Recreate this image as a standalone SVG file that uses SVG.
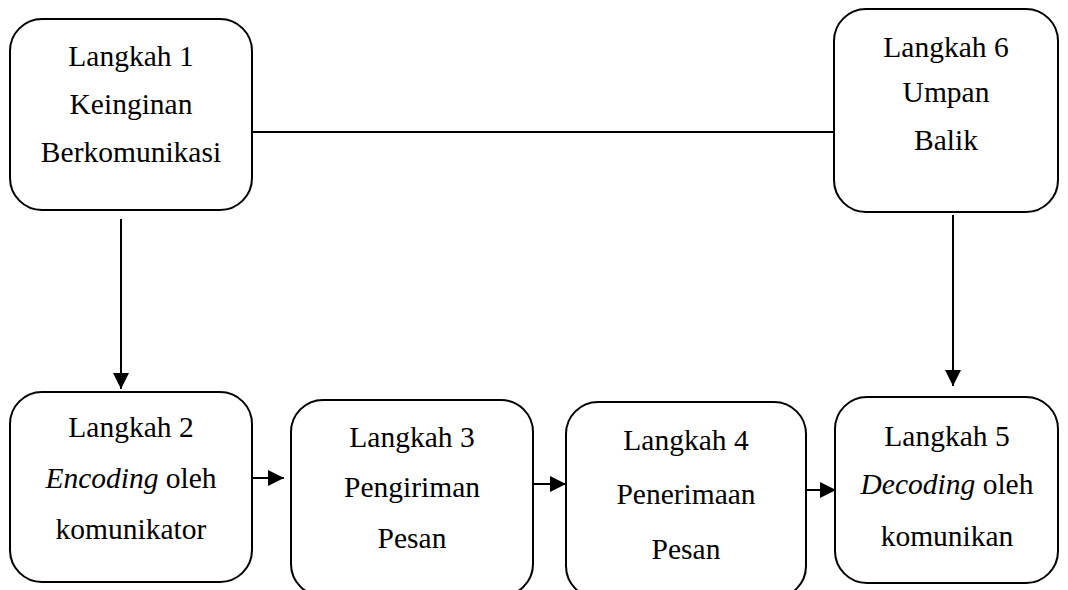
<svg xmlns="http://www.w3.org/2000/svg" width="1068" height="590" viewBox="0 0 1068 590">
<style>
.box{fill:#fff;stroke:#000;stroke-width:2}
.t{font-family:'Liberation Serif','DejaVu Serif',serif;font-size:29.5px;fill:#000;text-anchor:middle}
.i{font-style:italic}
.c{stroke:#000;stroke-width:2;fill:none}
</style>
<defs>
<marker id="ah" markerWidth="17" markerHeight="17" refX="16" refY="8" orient="auto" markerUnits="userSpaceOnUse">
<path d="M0,0 L16,8 L0,16 Z" fill="#000"/>
</marker>
</defs>
<g id="connectors">
<line class="c" x1="252" y1="132" x2="834" y2="132"/>
<line class="c" x1="121" y1="219" x2="121" y2="389" marker-end="url(#ah)"/>
<line class="c" x1="953" y1="215" x2="953" y2="386" marker-end="url(#ah)"/>
<line class="c" x1="252" y1="478" x2="284" y2="478" marker-end="url(#ah)"/>
<line class="c" x1="533" y1="484" x2="566" y2="484" marker-end="url(#ah)"/>
<line class="c" x1="806" y1="490" x2="836" y2="490" marker-end="url(#ah)"/>
</g>
<g id="n1">
<rect class="box" x="10" y="19" width="242" height="191" rx="32"/>
<text class="t" x="131" y="66">Langkah 1</text>
<text class="t" x="131" y="114">Keinginan</text>
<text class="t" x="131" y="162">Berkomunikasi</text>
</g>
<g id="n6">
<rect class="box" x="834" y="9" width="224" height="203" rx="32"/>
<text class="t" x="946" y="57">Langkah 6</text>
<text class="t" x="946" y="102">Umpan</text>
<text class="t" x="946" y="150">Balik</text>
</g>
<g id="n2">
<rect class="box" x="10" y="392" width="242" height="190" rx="32"/>
<text class="t" x="131" y="437">Langkah 2</text>
<text class="t" x="131" y="488"><tspan class="i">Encoding</tspan> oleh</text>
<text class="t" x="131" y="539">komunikator</text>
</g>
<g id="n3">
<rect class="box" x="291" y="400" width="242" height="196" rx="32"/>
<text class="t" x="412" y="447">Langkah 3</text>
<text class="t" x="412" y="497">Pengiriman</text>
<text class="t" x="412" y="548">Pesan</text>
</g>
<g id="n4">
<rect class="box" x="566" y="402" width="240" height="196" rx="32"/>
<text class="t" x="686" y="450">Langkah 4</text>
<text class="t" x="686" y="504">Penerimaan</text>
<text class="t" x="686" y="559">Pesan</text>
</g>
<g id="n5">
<rect class="box" x="835" y="397" width="223" height="186" rx="32"/>
<text class="t" x="947" y="446">Langkah 5</text>
<text class="t" x="947" y="494"><tspan class="i">Decoding</tspan> oleh</text>
<text class="t" x="947" y="546">komunikan</text>
</g>
</svg>
